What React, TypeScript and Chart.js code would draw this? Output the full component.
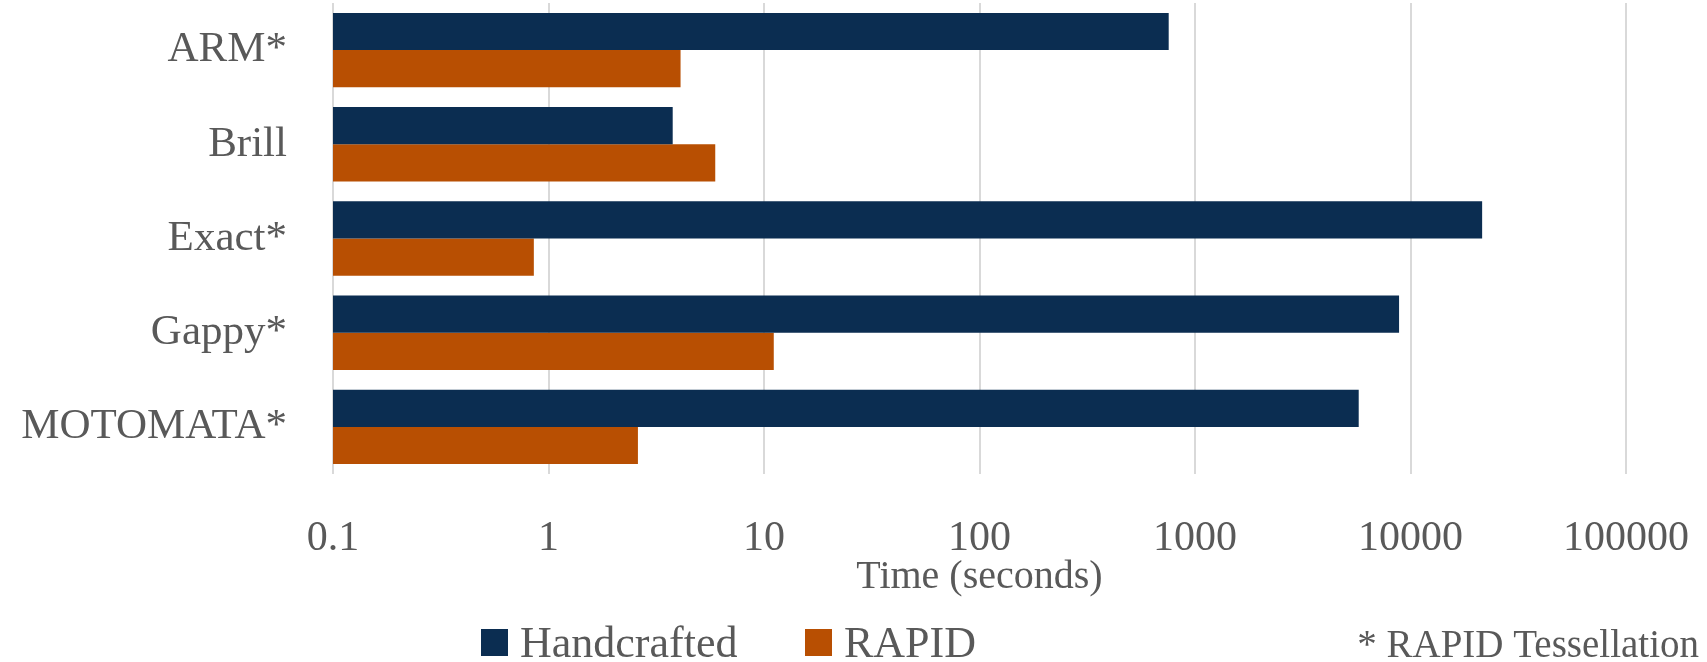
import React, { useEffect, useRef } from 'react';
import { Chart, registerables } from 'chart.js';

Chart.register(...registerables);

// ---- data ----
const CATEGORIES = ['ARM*', 'Brill', 'Exact*', 'Gappy*', 'MOTOMATA*'];
const HANDCRAFTED = [755, 3.77, 21500, 8850, 5750];
const RAPID = [4.1, 5.94, 0.855, 11.1, 2.6];
const X_TICKS = [0.1, 1, 10, 100, 1000, 10000, 100000];
const X_TICK_LABELS = ['0.1', '1', '10', '100', '1000', '10000', '100000'];
const SERIES_NAMES = ['Handcrafted', 'RAPID'];
const X_TITLE = 'Time (seconds)';
const NOTE = '* RAPID Tessellation';

// ---- styles ----
const NAVY = '#0b2d51';
const ORANGE = '#b84f02';
const TEXT = '#595959';
const GRID = '#d9d9d9';
const FONT = "'Liberation Serif', 'Times New Roman', serif";

const bottomLegend = {
  id: 'bottomLegend',
  afterDraw(chart: any, _args: any, opts: any) {
    const { ctx } = chart;
    ctx.save();
    ctx.textBaseline = 'alphabetic';
    ctx.font = `${opts.fontSize}px ${FONT}`;
    chart.data.datasets.forEach((ds: any, i: number) => {
      const x = opts.itemX[i];
      ctx.fillStyle = ds.backgroundColor;
      ctx.fillRect(x, opts.boxTop, opts.boxSize, opts.boxSize);
      ctx.fillStyle = opts.color;
      ctx.textAlign = 'left';
      ctx.fillText(ds.label, x + opts.boxSize + opts.gap, opts.baseline);
    });
    ctx.font = `${opts.noteFontSize}px ${FONT}`;
    ctx.textAlign = 'right';
    ctx.fillStyle = opts.color;
    ctx.fillText(opts.note, opts.noteRight, opts.baseline);
    ctx.restore();
  },
};

export default function App() {
  const canvasRef = useRef<HTMLCanvasElement | null>(null);

  useEffect(() => {
    if (!canvasRef.current) return;
    const chart = new Chart(canvasRef.current, {
      type: 'bar',
      data: {
        labels: CATEGORIES,
        datasets: [
          {
            label: SERIES_NAMES[0],
            data: HANDCRAFTED,
            backgroundColor: NAVY,
            borderWidth: 0,
            barPercentage: 1,
            categoryPercentage: 0.79,
          },
          {
            label: SERIES_NAMES[1],
            data: RAPID,
            backgroundColor: ORANGE,
            borderWidth: 0,
            barPercentage: 1,
            categoryPercentage: 0.79,
          },
        ],
      },
      plugins: [bottomLegend],
      options: {
        indexAxis: 'y',
        responsive: false,
        animation: false,
        layout: { padding: { top: 3, right: 81, bottom: 65, left: 0 } },
        plugins: {
          legend: { display: false },
          tooltip: { enabled: false },
          bottomLegend: {
            itemX: [481, 805],
            boxTop: 629,
            boxSize: 27,
            gap: 12,
            baseline: 657,
            fontSize: 44,
            noteFontSize: 39,
            noteRight: 1699,
            note: NOTE,
            color: TEXT,
          },
        } as any,
        scales: {
          x: {
            type: 'logarithmic',
            min: X_TICKS[0],
            max: X_TICKS[X_TICKS.length - 1],
            afterBuildTicks: (scale: any) => {
              scale.ticks = X_TICKS.map((v) => ({ value: v }));
            },
            afterFit: (scale: any) => {
              scale.paddingLeft = 0;
              scale.paddingRight = 0;
            },
            grid: { color: GRID, lineWidth: 2, drawTicks: false },
            border: { display: false },
            ticks: {
              autoSkip: false,
              maxRotation: 0,
              padding: 44,
              color: TEXT,
              font: { family: FONT, size: 42, lineHeight: 1 },
              callback: (_v: any, i: number) => X_TICK_LABELS[i],
            },
            title: {
              display: true,
              text: X_TITLE,
              color: TEXT,
              font: { family: FONT, size: 40, lineHeight: 1 },
              padding: { top: -47, bottom: 0 },
            },
          },
          y: {
            grid: { display: false, drawTicks: false },
            border: { display: false },
            afterFit: (scale: any) => {
              scale.width = 333;
              scale.paddingTop = 0;
              scale.paddingBottom = 0;
            },
            ticks: {
              padding: 46,
              color: TEXT,
              font: { family: FONT, size: 43 },
            },
          },
        },
      } as any,
    });
    return () => chart.destroy();
  }, []);

  return (
    <div style={{ position: 'fixed', top: 0, left: 0, width: 1707, height: 662, background: '#fff' }}>
      <canvas ref={canvasRef} width={1707} height={662} style={{ display: 'block' }} />
    </div>
  );
}
